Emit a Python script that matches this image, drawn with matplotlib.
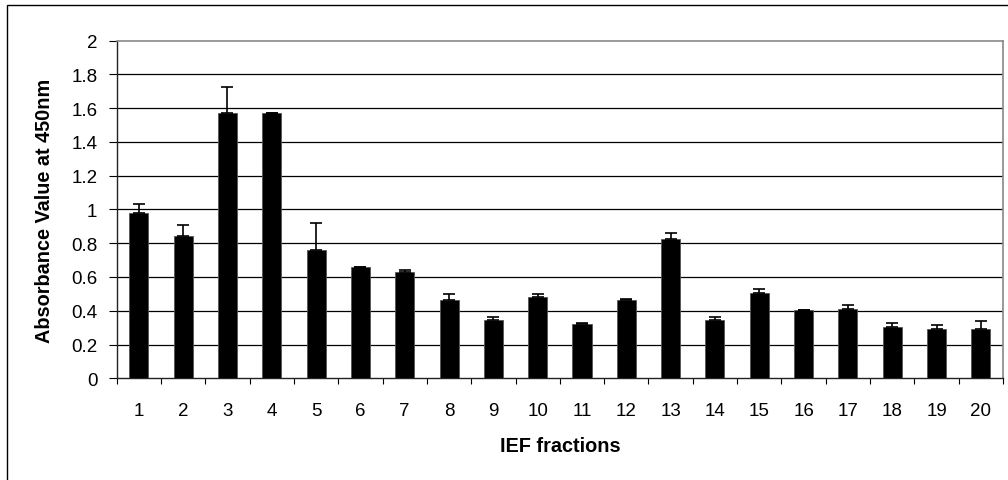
import matplotlib
matplotlib.use("Agg")
import matplotlib.pyplot as plt
from matplotlib.patches import Rectangle
from matplotlib.ticker import FixedLocator, NullFormatter, FixedFormatter

categories = [str(i) for i in range(1, 21)]
values = [0.98, 0.84, 1.57, 1.57, 0.757, 0.66, 0.63, 0.463, 0.346, 0.482,
          0.319, 0.465, 0.825, 0.346, 0.503, 0.402, 0.41, 0.303, 0.293, 0.293]
errors = [0.05, 0.07, 0.154, 0.0, 0.165, 0.0, 0.01, 0.037, 0.018, 0.016,
          0.006, 0.006, 0.035, 0.016, 0.028, 0.0, 0.026, 0.027, 0.02, 0.047]
y_ticks = [0, 0.2, 0.4, 0.6, 0.8, 1, 1.2, 1.4, 1.6, 1.8, 2]
y_tick_labels = ["0", "0.2", "0.4", "0.6", "0.8", "1", "1.2", "1.4", "1.6", "1.8", "2"]

plt.rcParams['font.family'] = ['Liberation Sans', 'DejaVu Sans']

W, H = 1008, 481
fig = plt.figure(figsize=(W / 100, H / 100), dpi=100)
ax = fig.add_axes([116.7 / W, 1 - 379.3 / H, (1003 - 116.7) / W, (379.3 - 41.5) / H])

x = list(range(len(categories)))
ax.bar(x, values, width=0.43, color='black', edgecolor='#555555', linewidth=0.6, zorder=3)
ax.errorbar(x, values, yerr=[[0] * len(errors), errors], fmt='none', ecolor='black',
            elinewidth=1.2, capsize=4.6, capthick=1.2, zorder=4)

ax.set_xlim(-0.5, len(categories) - 0.5)
ax.set_ylim(0, 2)

# gridlines
for t in y_ticks[1:-1]:
    ax.axhline(t, color='black', linewidth=0.9, zorder=1)

ax.yaxis.set_major_locator(FixedLocator(y_ticks))
ax.yaxis.set_major_formatter(FixedFormatter(y_tick_labels))
ax.tick_params(axis='y', direction='out', length=5.5, width=0.8, pad=8.5, labelsize=13.5,
               colors='black')

bounds = [i - 0.5 for i in range(len(categories) + 1)]
ax.xaxis.set_major_locator(FixedLocator(bounds))
ax.xaxis.set_major_formatter(NullFormatter())
ax.xaxis.set_minor_locator(FixedLocator(x))
ax.xaxis.set_minor_formatter(FixedFormatter(categories))
ax.tick_params(axis='x', which='major', direction='out', length=4, width=0.8, colors='black')
ax.tick_params(axis='x', which='minor', length=0, pad=17, labelsize=13.5)

for s in ['top', 'right']:
    ax.spines[s].set_color('#888888')
    ax.spines[s].set_linewidth(1.2)
ax.spines['left'].set_color('#222222')
ax.spines['bottom'].set_color('#222222')
ax.spines['left'].set_linewidth(1.0)
ax.spines['bottom'].set_linewidth(1.0)

ax.set_xlabel('IEF fractions', fontsize=14.3, fontweight='bold', labelpad=12)
ax.set_ylabel('Absorbance Value at 450nm', fontsize=14.3, fontweight='bold', labelpad=12)

fig.patches.append(Rectangle((7 / W, -0.05), 1.1, 1 - 6 / H + 0.05, transform=fig.transFigure,
                             fill=False, edgecolor='black', linewidth=1.0))

fig.savefig('out.png', dpi=100)
